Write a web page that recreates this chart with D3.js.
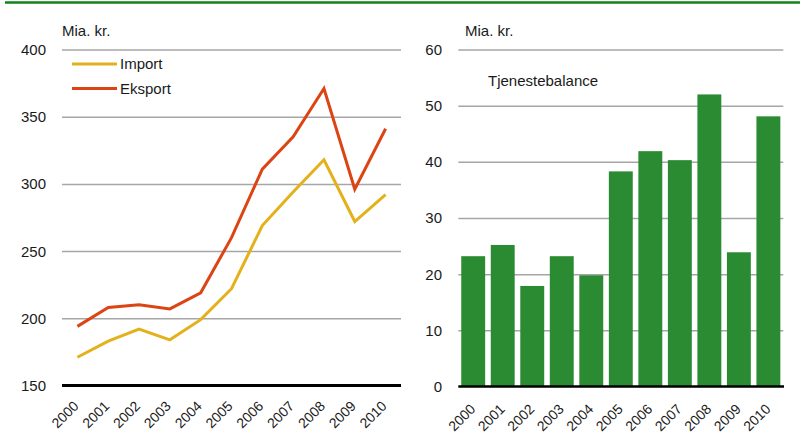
<!DOCTYPE html>
<html>
<head>
    <script src="https://d3js.org/d3.v7.min.js"></script>
    <style>
        body { margin: 0; background: #fff; }
        svg text { font-family: "Liberation Sans", Arial, sans-serif; fill: #1a1a1a; }
        .grid line { stroke: #a6a6a6; stroke-width: 1.5; }
        .grid path { display: none; }
    </style>
</head>
<body>
    <svg id="chart" width="802" height="446"></svg>

    <script>
        var years = ["2000", "2001", "2002", "2003", "2004", "2005", "2006", "2007", "2008", "2009", "2010"];
        var importValues = [171, 183, 192, 184, 199, 222, 269, 294, 318, 272, 292];
        var eksportValues = [194, 208, 210, 207, 219, 260, 311, 335, 371, 296, 341];
        var balanceValues = [23.2, 25.2, 17.9, 23.2, 19.8, 38.3, 41.9, 40.3, 52.0, 23.9, 48.1];
        var leftTicks = [150, 200, 250, 300, 350, 400];
        var rightTicks = [0, 10, 20, 30, 40, 50, 60];

        var svg = d3.select("#chart");

        // green rule on top
        svg.append("line").attr("x1", 5).attr("x2", 800).attr("y1", 2.5).attr("y2", 2.5)
            .attr("stroke", "#12821a").attr("stroke-width", 2.5);

        // ---- left chart: lines
        var xL = d3.scaleBand().domain(years).range([62, 401]);
        var yL = d3.scaleLinear().domain([150, 400]).range([385.5, 49.5]);

        svg.append("g").attr("class", "grid").attr("transform", "translate(62,0)")
            .call(d3.axisLeft(yL).tickValues(leftTicks.slice(1)).tickSize(-339).tickFormat(""));
        svg.selectAll(".yl").data(leftTicks).enter().append("text")
            .attr("x", 46).attr("y", d => yL(d)).attr("dy", "0.36em")
            .attr("text-anchor", "end").style("font-size", "15px").text(d => d);
        svg.append("line").attr("x1", 62).attr("x2", 401).attr("y1", yL(150)).attr("y2", yL(150))
            .attr("stroke", "#000").attr("stroke-width", 3);
        svg.append("text").attr("x", 62).attr("y", 36).style("font-size", "15px").text("Mia. kr.");

        var line = d3.line().x((d, i) => xL(years[i]) + xL.bandwidth() / 2).y(d => yL(d));
        svg.append("path").datum(importValues).attr("d", line).attr("fill", "none")
            .attr("stroke", "#e3b11c").attr("stroke-width", 3).attr("stroke-linejoin", "miter");
        svg.append("path").datum(eksportValues).attr("d", line).attr("fill", "none")
            .attr("stroke", "#dc4414").attr("stroke-width", 3).attr("stroke-linejoin", "miter");

        // legend
        var legend = [["Import", "#e3b11c"], ["Eksport", "#dc4414"]];
        var lg = svg.selectAll(".lg").data(legend).enter().append("g")
            .attr("transform", (d, i) => `translate(72, ${64 + 24.5 * i})`);
        lg.append("line").attr("x1", 0).attr("x2", 45).attr("stroke", d => d[1]).attr("stroke-width", 3);
        lg.append("text").attr("x", 48).attr("dy", "0.36em").style("font-size", "15px").text(d => d[0]);

        svg.selectAll(".xl").data(years).enter().append("text")
            .attr("text-anchor", "end").style("font-size", "14px")
            .attr("transform", d => `translate(${xL(d) + xL.bandwidth() / 2 + 2},407)rotate(-45)`)
            .text(d => d);

        // ---- right chart: bars
        var xR = d3.scaleBand().domain(years).range([458.3, 783.3]).paddingInner(0.19).paddingOuter(0.1);
        var yR = d3.scaleLinear().domain([0, 60]).range([386.5, 49.5]);

        svg.append("g").attr("class", "grid").attr("transform", "translate(458.3,0)")
            .call(d3.axisLeft(yR).tickValues(rightTicks.slice(1)).tickSize(-325).tickFormat(""));
        svg.selectAll(".yr").data(rightTicks).enter().append("text")
            .attr("x", 442).attr("y", d => yR(d)).attr("dy", "0.36em")
            .attr("text-anchor", "end").style("font-size", "15px").text(d => d);
        svg.append("text").attr("x", 465).attr("y", 36).style("font-size", "15px").text("Mia. kr.");
        svg.append("text").attr("x", 488).attr("y", 86).style("font-size", "15px").text("Tjenestebalance");

        svg.selectAll(".bar").data(balanceValues).enter().append("rect")
            .attr("x", (d, i) => xR(years[i])).attr("width", xR.bandwidth())
            .attr("y", d => yR(d)).attr("height", d => yR(0) - yR(d))
            .attr("fill", "#2a8b33");
        svg.append("line").attr("x1", 458.3).attr("x2", 784).attr("y1", yR(0)).attr("y2", yR(0))
            .attr("stroke", "#000").attr("stroke-width", 2.5);

        svg.selectAll(".xr").data(years).enter().append("text")
            .attr("text-anchor", "end").style("font-size", "14px")
            .attr("transform", d => `translate(${xR(d) + xR.bandwidth() / 2 + 3},410)rotate(-45)`)
            .text(d => d);
    </script>
</body>
</html>
